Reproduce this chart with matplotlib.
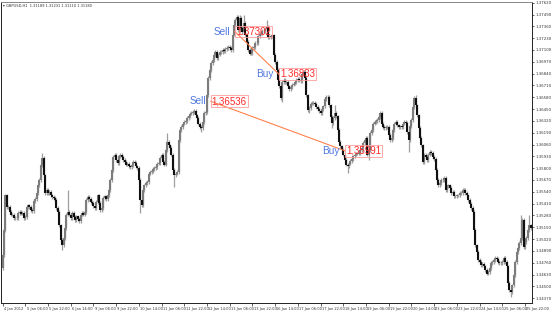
import numpy as np
import matplotlib
matplotlib.use("Agg")
import matplotlib.pyplot as plt
from matplotlib.transforms import blended_transform_factory

# ---------------- data (prices, in pips above 1.3000) ----------------
close_pips = [
    484, 512, 550, 537, 537, 532, 529, 529, 525, 525,
    525, 531, 532, 530, 531, 525, 526, 537, 539, 537,
    534, 533, 544, 546, 553, 561, 567, 583, 591, 572,
    553, 556, 553, 554, 550, 548, 547, 545, 536, 532,
    517, 501, 495, 503, 514, 529, 532, 529, 525, 531,
    526, 523, 527, 524, 522, 529, 531, 529, 532, 545,
    548, 546, 543, 542, 538, 536, 543, 550, 542, 534,
    536, 547, 549, 546, 550, 556, 567, 578, 592, 595,
    589, 586, 593, 595, 592, 589, 587, 584, 585, 582,
    581, 583, 587, 586, 582, 580, 567, 545, 539, 556,
    561, 564, 565, 574, 576, 577, 579, 580, 581, 585,
    586, 591, 595, 587, 584, 600, 609, 605, 602, 595,
    578, 572, 574, 576, 611, 622, 625, 629, 631, 632,
    635, 637, 640, 641, 642, 643, 638, 635, 629, 625,
    624, 631, 641, 642, 660, 679, 688, 696, 699, 704,
    708, 701, 705, 708, 708, 710, 709, 711, 712, 713,
    712, 710, 727, 737, 743, 746, 732, 745, 734, 730,
    740, 727, 719, 710, 706, 707, 712, 713, 718, 718,
    725, 728, 728, 731, 731, 733, 735, 724, 724, 725,
    726, 705, 697, 688, 677, 670, 657, 675, 677, 675,
    675, 670, 667, 669, 672, 673, 675, 677, 678, 677,
    676, 684, 686, 679, 660, 644, 646, 651, 652, 652,
    651, 647, 645, 643, 641, 645, 648, 656, 658, 658,
    649, 636, 630, 635, 641, 637, 622, 609, 604, 600,
    595, 589, 584, 582, 585, 588, 590, 593, 595, 596,
    596, 597, 600, 602, 608, 611, 613, 595, 600, 619,
    622, 629, 631, 632, 633, 636, 641, 629, 625, 624,
    625, 625, 617, 611, 613, 622, 629, 631, 627, 625,
    626, 625, 629, 631, 630, 620, 611, 626, 633, 647,
    657, 649, 638, 624, 613, 605, 587, 595, 592, 589,
    595, 598, 597, 592, 590, 578, 567, 561, 564, 567,
    567, 569, 556, 560, 561, 558, 553, 554, 549, 549,
    550, 550, 553, 553, 556, 556, 553, 550, 545, 541,
    536, 532, 512, 495, 488, 479, 477, 473, 475, 472,
    468, 464, 466, 470, 476, 477, 479, 481, 480, 477,
    476, 476, 477, 481, 477, 472, 454, 446, 444, 451,
    462, 477, 488, 492, 498, 503, 523, 493, 499, 503,
    512, 517, 514,
]
first_open_pips = 470

# notable wick extremes (bar index -> pips)
spike_high = {28: 597, 46: 556, 116: 619, 165: 749, 167: 749, 170: 749,
              186: 743, 234: 649, 291: 660, 365: 528, 371: 528}
spike_low = {42: 490, 97: 531, 121: 559, 140: 620, 197: 653, 216: 641,
             232: 624, 243: 575, 258: 589, 286: 598, 358: 438}

x_labels = ["4 Jan 2012", "5 Jan 06:00", "5 Jan 22:00", "6 Jan 14:00", "9 Jan 06:00",
            "9 Jan 22:00", "10 Jan 14:00", "11 Jan 06:00", "11 Jan 22:00", "12 Jan 14:00",
            "13 Jan 06:00", "13 Jan 22:00", "16 Jan 14:00", "17 Jan 06:00", "17 Jan 22:00",
            "18 Jan 14:00", "19 Jan 06:00", "19 Jan 22:00", "20 Jan 14:00", "23 Jan 06:00",
            "23 Jan 22:00", "24 Jan 14:00", "25 Jan 06:00", "25 Jan 22:00"]
bars_per_label = 16

y_ticks = [1.37620, 1.37490, 1.37360, 1.37230, 1.37100, 1.36970, 1.36840, 1.36710,
           1.36580, 1.36450, 1.36320, 1.36190, 1.36060, 1.35930, 1.35800, 1.35670,
           1.35540, 1.35410, 1.35280, 1.35150, 1.35020, 1.34890, 1.34760, 1.34630,
           1.34500, 1.34370]

# trades
trade_open_type = ["Sell", "Sell"]
trade_open_bar = [163.7, 146.7]
trade_open_price = [1.37302, 1.36536]
trade_open_text = ["1.37302", "1,36536"]
trade_close_type = ["Buy", "Buy"]
trade_close_bar = [194.7, 241.2]
trade_close_price = [1.36833, 1.35991]
trade_close_text = ["1.36833", "1,35991"]

header = "\u25be GBPUSD,H1  1.31189 1.31231 1.31110 1.31180"

# ---------------- build OHLC ----------------
closes = 1.3 + np.array(close_pips) / 1e4
opens = np.r_[1.3 + first_open_pips / 1e4, closes[:-1]]
wick_pad = 0.0002
highs = np.maximum(opens, closes) + wick_pad
lows = np.minimum(opens, closes) - wick_pad
for b, v in spike_high.items():
    highs[b] = max(highs[b], 1.3 + v / 1e4)
for b, v in spike_low.items():
    lows[b] = min(lows[b], 1.3 + v / 1e4)
xs = np.arange(len(closes))

# ---------------- figure ----------------
W, H = 554, 316
fig = plt.figure(figsize=(W / 100, H / 100), dpi=100)
fig.patch.set_facecolor("white")
ax = fig.add_axes([1 / W, 13 / H, 531 / W, 301 / H])
ax.set_facecolor("white")
ax.set_xlim(-1.06, 372.9)
ax.set_ylim(1.34317, 1.37628)

bull = closes >= opens
ax.vlines(xs, lows, highs, color="#9e9e9e", lw=0.9, zorder=2)
ax.vlines(xs[bull], opens[bull], closes[bull], color="#7c7c7c", lw=1.5, zorder=3)
ax.vlines(xs[~bull], opens[~bull], closes[~bull], color="#101010", lw=1.5, zorder=3)

# trade lines and labels
for i in range(len(trade_open_bar)):
    ax.plot([trade_open_bar[i], trade_close_bar[i]],
            [trade_open_price[i], trade_close_price[i]],
            color="#ff7a45", lw=0.75, zorder=4)
    for b, p, kind, txt in [(trade_open_bar[i], trade_open_price[i], trade_open_type[i], trade_open_text[i]),
                            (trade_close_bar[i], trade_close_price[i], trade_close_type[i], trade_close_text[i])]:
        ax.annotate(kind, xy=(b, p), xytext=(-5, 0), textcoords="offset pixels",
                    ha="right", va="center", fontsize=7.2, color="#4f78e0",
                    family="Liberation Sans", zorder=5)
        ax.annotate(txt, xy=(b, p), xytext=(1, 0), textcoords="offset pixels",
                    ha="left", va="center", fontsize=7.0, color="#ff2a2a",
                    family="Liberation Sans", zorder=5,
                    bbox=dict(boxstyle="square,pad=0.08", fc="none", ec="#ff9c9c", lw=0.6))

# spines
for s in ax.spines.values():
    s.set_color("#222222")
    s.set_linewidth(0.7)
ax.spines["top"].set_color("#888888")

# y axis on right
ax.yaxis.tick_right()
ax.set_yticks(y_ticks)
ax.set_yticklabels([f"{v:.5f}" for v in y_ticks])
ax.tick_params(axis="y", which="both", direction="out", length=1.5, width=0.5,
               labelsize=2.8, pad=1, colors="#222222", labelcolor="#333333")

# x axis: ticks and labels (labels start right of tick, MT4 style)
tick_pos = [bars_per_label * k for k in range(len(x_labels))]
ax.set_xticks(tick_pos)
ax.set_xticklabels([])
ax.tick_params(axis="x", direction="out", length=2, width=0.5, colors="#222222")
trans = blended_transform_factory(ax.transData, ax.transAxes)
for pos, lab in zip(tick_pos, x_labels):
    ax.text(pos + 0.9, -0.012, lab, transform=trans, ha="left", va="top",
            fontsize=2.6, color="#333333", clip_on=False)

ax.text(0.003, 0.994, header, transform=ax.transAxes, ha="left", va="top",
        fontsize=2.6, color="#333333", family=["DejaVu Sans"])

fig.savefig("out.png", dpi=100, facecolor="white")
